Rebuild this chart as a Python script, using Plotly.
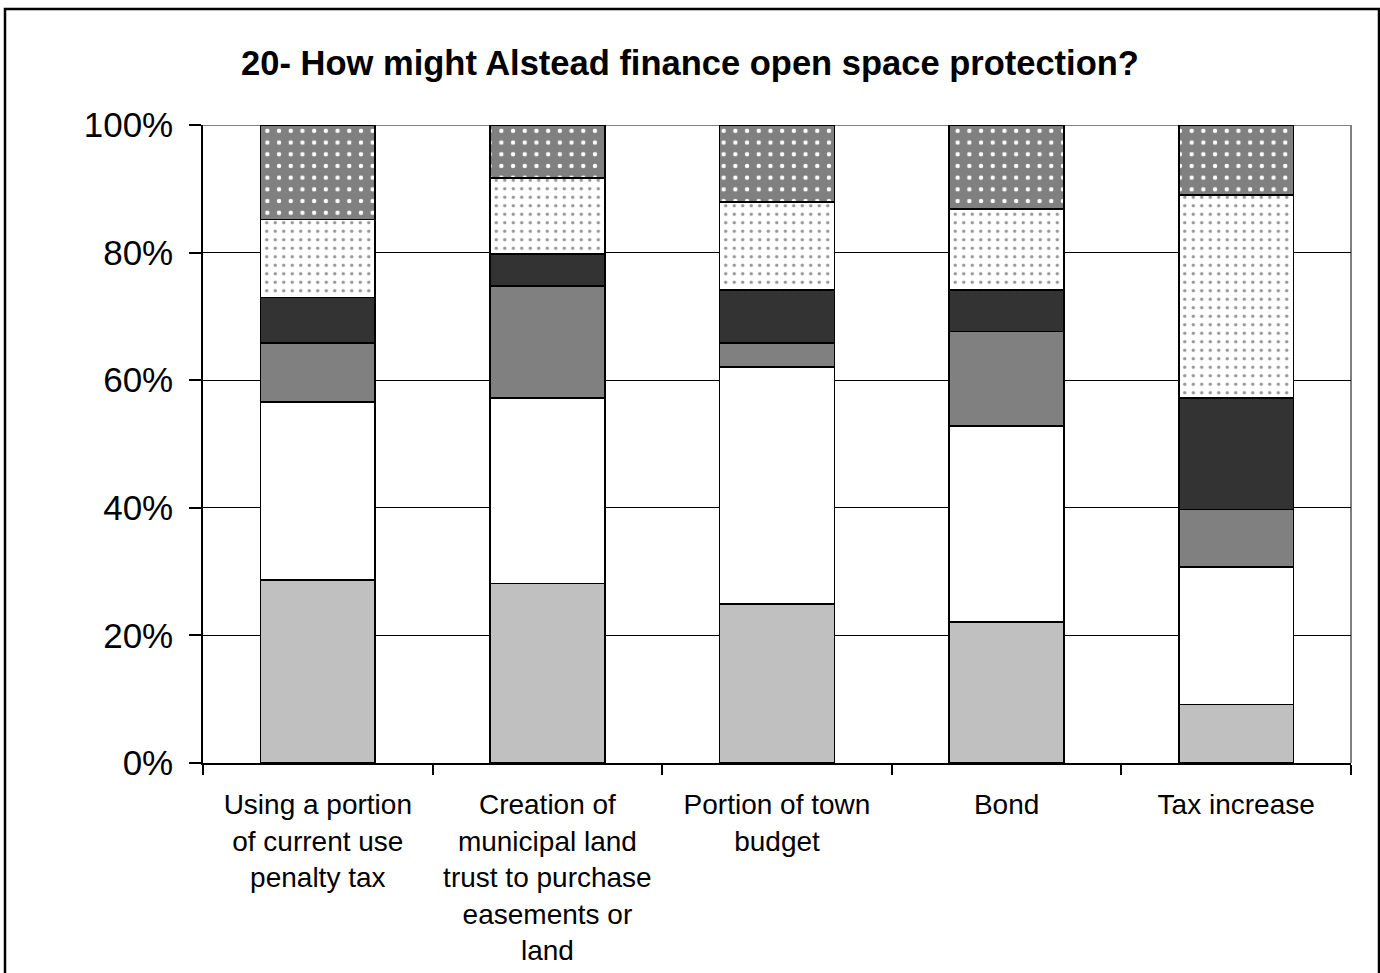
import plotly.graph_objects as go

categories = [
    "Using a portion<br>of current use<br>penalty tax",
    "Creation of<br>municipal land<br>trust to purchase<br>easements or<br>land",
    "Portion of town<br>budget",
    "Bond",
    "Tax increase",
]
s1 = [28.7, 28.1, 24.9, 22.1, 9.2]
s2 = [27.9, 29.1, 37.2, 30.7, 21.5]
s3 = [9.2, 17.6, 3.7, 14.8, 9.0]
s4 = [7.2, 5.0, 8.3, 6.5, 17.5]
s5 = [12.2, 11.9, 13.8, 12.7, 31.8]
s6 = [14.8, 8.3, 12.1, 13.2, 11.0]
y_ticks = [0, 20, 40, 60, 80, 100]
y_tick_labels = ["0%", "20%", "40%", "60%", "80%", "100%"]
title_text = "20- How might Alstead finance open space protection?"

# (values, fill colour, dot colour, dot spacing, dot solidity)
series = [
    (s1, "#C0C0C0", None, None, None),
    (s2, "#FFFFFF", None, None, None),
    (s3, "#808080", None, None, None),
    (s4, "#333333", None, None, None),
    (s5, "#FFFFFF", "#969696", 8.5, 0.13),
    (s6, "#808080", "#FFFFFF", 11.7, 0.11),
]

fig = go.Figure()
for vals, col, dot, dsize, dsol in series:
    marker = dict(color=col, line=dict(color="black", width=1.5))
    if dot:
        marker["pattern"] = dict(shape=".", bgcolor=col, fgcolor=dot,
                                 fillmode="replace", size=dsize, solidity=dsol)
    fig.add_trace(go.Bar(x=categories, y=vals, marker=marker, width=0.5,
                         showlegend=False, hoverinfo="skip"))

W, H = 1380, 973
L, T = 203, 125
R = W - 1351
B = H - 763
pw, ph = W - L - R, H - T - B

def px_x(px):
    return (px - L) / pw

def px_y(py):
    return (H - B - py) / ph

fig.update_layout(
    width=W, height=H, barmode="stack",
    margin=dict(l=L, r=R, t=T, b=B, autoexpand=False),
    paper_bgcolor="white", plot_bgcolor="white",
    font=dict(family="Liberation Sans, Arial, sans-serif", color="black"),
    title=dict(text="<b>" + title_text + "</b>", x=690 / W,
               xanchor="center",
               y=(H - 63) / H, yanchor="middle",
               font=dict(size=34.5, color="black")),
    xaxis=dict(type="category", showline=True, linecolor="black", linewidth=1.5,
               ticks="outside", tickson="boundaries", ticklen=10,
               tickcolor="black", tickwidth=1.5, showgrid=False,
               tickfont=dict(size=28), ticklabelstandoff=16),
    yaxis=dict(range=[0, 100], tickvals=y_ticks, ticktext=y_tick_labels,
               showline=True, linecolor="black", linewidth=1.5,
               ticks="outside", ticklen=12, tickcolor="black", tickwidth=1.5,
               showgrid=True, gridcolor="black", gridwidth=1.2,
               tickfont=dict(size=35), ticklabelstandoff=9, zeroline=False),
    shapes=[
        dict(type="line", xref="paper", yref="y", x0=0, x1=1, y0=100, y1=100,
             line=dict(color="#808080", width=2), layer="below"),
        dict(type="line", xref="paper", yref="paper", x0=1, x1=1, y0=0, y1=1,
             line=dict(color="#808080", width=2), layer="below"),
        dict(type="rect", xref="paper", yref="paper",
             x0=px_x(5), x1=px_x(1379), y0=px_y(985), y1=px_y(9),
             line=dict(color="black", width=2.5), fillcolor="rgba(0,0,0,0)"),
    ],
)

fig.write_html("out.html",
               config={"displayModeBar": False},
               post_script="document.body.style.margin='0px';"
                           "document.body.style.overflow='hidden';")
